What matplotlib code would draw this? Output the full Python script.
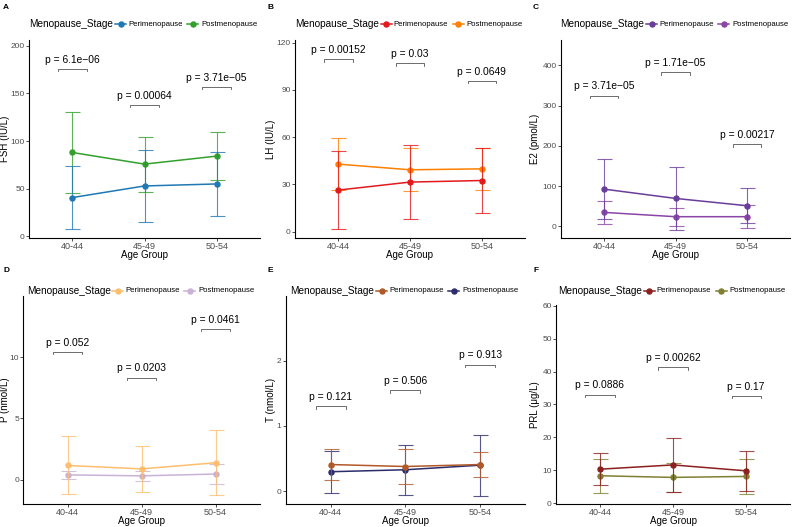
import matplotlib
matplotlib.use('Agg')
import matplotlib.pyplot as plt
from matplotlib.lines import Line2D
import numpy as np

plt.rcParams['font.family'] = ['Liberation Sans', 'DejaVu Sans']

W, H = 794, 527

groups = ['40-44', '45-49', '50-54']
stages = ['Perimenopause', 'Postmenopause']

# means and SD
fsh_peri = [40.7, 52.9, 55.0]
fsh_peri_sd = [33.0, 38.2, 34.0]
fsh_post = [88.0, 75.8, 84.2]
fsh_post_sd = [42.3, 28.9, 25.0]

lh_peri = [26.4, 31.5, 32.5]
lh_peri_sd = [24.9, 23.4, 20.9]
lh_post = [42.9, 39.3, 39.9]
lh_post_sd = [16.5, 13.7, 13.5]

e2_peri = [92.5, 69.4, 51.2]
e2_peri_sd = [75.3, 77.6, 43.0]
e2_post = [34.7, 24.0, 24.0]
e2_post_sd = [29.0, 22.3, 29.0]

p_peri = [1.15, 0.87, 1.37]
p_peri_sd = [2.37, 1.86, 2.65]
p_post = [0.38, 0.30, 0.45]
p_post_sd = [0.35, 0.40, 0.83]

t_peri = [0.41, 0.38, 0.41]
t_peri_sd = [0.235, 0.27, 0.19]
t_post = [0.30, 0.33, 0.40]
t_post_sd = [0.32, 0.385, 0.465]

prl_peri = [10.3, 11.6, 9.8]
prl_peri_sd = [4.8, 8.35, 6.05]
prl_post = [8.3, 7.8, 8.1]
prl_post_sd = [5.15, 4.45, 5.3]

# p-values and bracket heights
fsh_p = ['6.1e\u221206', '0.00064', '3.71e\u221205']
fsh_py = [175.7, 138.1, 156.9]
lh_p = ['0.00152', '0.03', '0.0649']
lh_py = [109.4, 106.9, 95.7]
e2_p = ['3.71e\u221205', '1.71e\u221205', '0.00217']
e2_py = [324.8, 382.6, 204.1]
p_p = ['0.052', '0.0203', '0.0461']
p_py = [10.44, 8.33, 12.32]
t_p = ['0.121', '0.506', '0.913']
t_py = [1.30, 1.55, 1.94]
prl_p = ['0.0886', '0.00262', '0.17']
prl_py = [33.0, 41.4, 32.6]

panels = [
    # letter, ylabel, peri, peri_sd, post, post_sd, pvals, py, colors, yticks, ylim, frame(l,t,r,b px)
    ('A', 'FSH (IU/L)', fsh_peri, fsh_peri_sd, fsh_post, fsh_post_sd, fsh_p, fsh_py,
     ('#1F78B4', '#33A02C'), [0, 50, 100, 150, 200], (-1.7, 206), (29, 40, 260, 238)),
    ('B', 'LH (IU/L)', lh_peri, lh_peri_sd, lh_post, lh_post_sd, lh_p, lh_py,
     ('#E31A1C', '#FF7F00'), [0, 30, 60, 90, 120], (-4.0, 121.7), (295, 40, 525, 238)),
    ('C', 'E2 (pmol/L)', e2_peri, e2_peri_sd, e2_post, e2_post_sd, e2_p, e2_py,
     ('#6A3D9A', '#8B45A6'), [0, 100, 200, 300, 400], (-28.9, 462.8), (561, 40, 790, 238)),
    ('D', 'P (nmol/L)', p_peri, p_peri_sd, p_post, p_post_sd, p_p, p_py,
     ('#FDBF6F', '#CAB2D6'), [0, 5, 10], (-2.0, 15.0), (23.3, 296, 260, 504)),
    ('E', 'T (nmol/L)', t_peri, t_peri_sd, t_post, t_post_sd, t_p, t_py,
     ('#B15928', '#2C2D6B'), [0, 1, 2], (-0.194, 2.99), (285.7, 296, 525, 504)),
    ('F', 'PRL (\u03bcg/L)', prl_peri, prl_peri_sd, prl_post, prl_post_sd, prl_p, prl_py,
     ('#8B2020', '#808033'), [0, 10, 20, 30, 40, 50, 60], (-0.3, 60.3), (556, 305, 790, 504)),
]

fig = plt.figure(figsize=(W / 100, H / 100), dpi=100)


def fx(x):
    return x / W


def fy(y):
    return 1 - y / H


for i, (letter, ylab, peri, peri_sd, post, post_sd, pv, py, cols, yt, yl, fr) in enumerate(panels):
    l, t, r, b = fr
    ax = fig.add_axes([fx(l), fy(b), (r - l) / W, (b - t) / H])
    x = np.arange(1, len(groups) + 1)

    for vals, sd, c in [(post, post_sd, cols[1]), (peri, peri_sd, cols[0])]:
        ax.errorbar(x, vals, yerr=sd, fmt='none', ecolor=c, elinewidth=0.8,
                    capsize=5.4, capthick=0.8, alpha=0.8)
        ax.plot(x, vals, '-o', color=c, lw=1.1, ms=3.6)

    # significance brackets
    tip = 2.5 * (yl[1] - yl[0]) / (b - t)
    for xi, txt, yb in zip(x, pv, py):
        ax.plot([xi - 0.2, xi - 0.2, xi + 0.2, xi + 0.2], [yb - tip, yb, yb, yb - tip],
                color='#555555', lw=0.6)
        ax.annotate('p = ' + txt, xy=(xi, yb), xytext=(0, 6.6), textcoords='offset points',
                    ha='center', va='center', fontsize=7.4, color='black')

    ax.set_xlim(0.4, 3.6)
    ax.set_ylim(*yl)
    ax.set_xticks(x)
    ax.set_xticklabels(groups)
    ax.set_yticks(yt)
    for s in ['top', 'right']:
        ax.spines[s].set_visible(False)
    for s in ['left', 'bottom']:
        ax.spines[s].set_linewidth(0.8)
        ax.spines[s].set_color('black')
    ax.tick_params(length=2.0, width=0.6, pad=1, colors='#333333', labelcolor='#4D4D4D')
    ax.tick_params(axis='x', labelsize=6.5)
    ax.tick_params(axis='y', labelsize=6.0)

    col0 = 0 if l < 100 else (265 if l < 400 else 530)
    row_top = 0 if t < 150 else 263

    # axis titles
    cx = (l + r) / 2
    fig.text(fx(col0 + 5.5), fy((t + b) / 2), ylab, rotation=90, ha='center', va='center',
             fontsize=7)
    fig.text(fx(cx), fy(b + 17), 'Age Group', ha='center', va='center', fontsize=7)

    # panel letter
    fig.text(fx(col0 + 3), fy(row_top + 7.5), letter, ha='left', va='center',
             fontsize=6, fontweight='bold')

    # legend on top
    ly = 24.3 if t < 150 else 290.7
    fig.text(fx(cx - 115), fy(ly), 'Menopause_Stage', ha='left', va='center', fontsize=7.2)
    for k, (kc, lab_off) in enumerate([(-23.8, -16.3), (48.2, 56.7)]):
        fig.add_artist(Line2D([fx(cx + kc - 5.5), fx(cx + kc + 5.5)], [fy(ly), fy(ly)],
                              transform=fig.transFigure, color=cols[k], lw=1.1))
        fig.add_artist(Line2D([fx(cx + kc)], [fy(ly)], transform=fig.transFigure,
                              color=cols[k], marker='o', ms=3.6))
        fig.text(fx(cx + lab_off), fy(ly), stages[k], ha='left', va='center', fontsize=5.6)

fig.savefig('out.png', dpi=100, facecolor='white')
